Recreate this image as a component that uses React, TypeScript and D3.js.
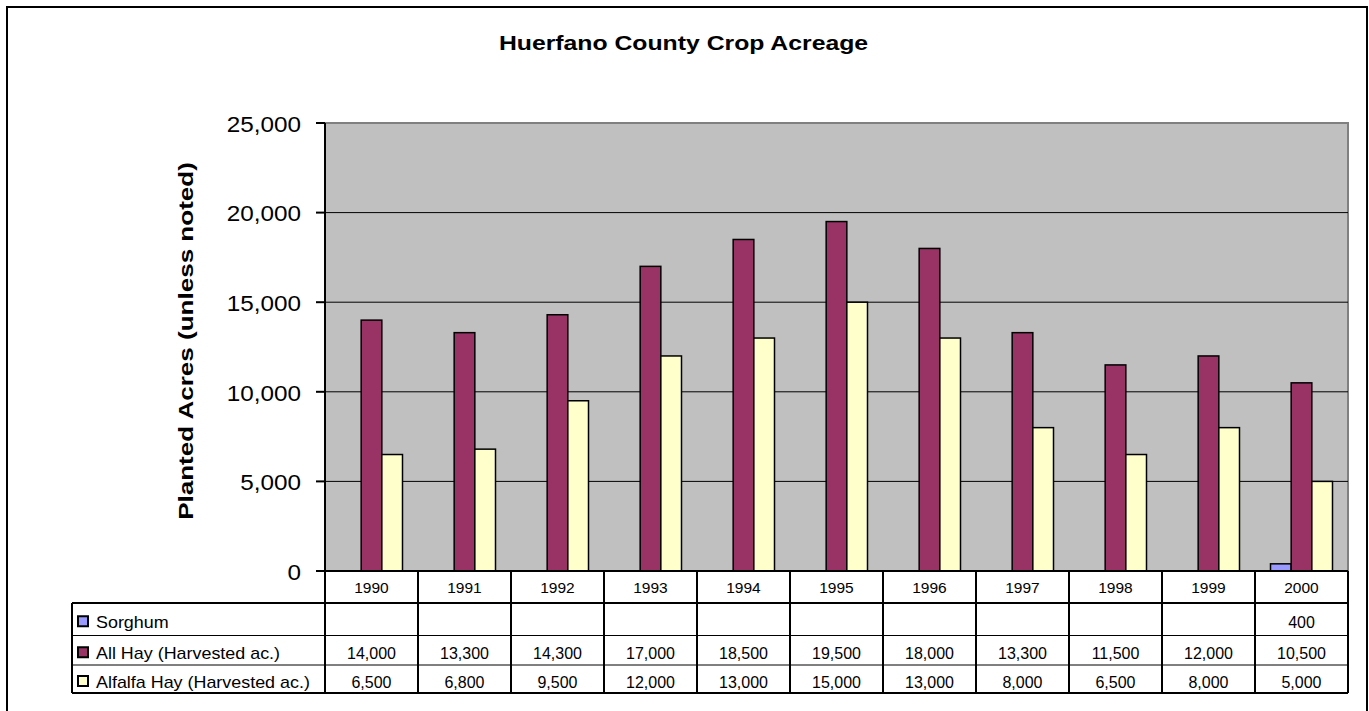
import React from "react";
import * as d3 from "d3";

const years = ["1990","1991","1992","1993","1994","1995","1996","1997","1998","1999","2000"];
const sorghum: (number | null)[] = [null,null,null,null,null,null,null,null,null,null,400];
const allHay: (number | null)[] = [14000,13300,14300,17000,18500,19500,18000,13300,11500,12000,10500];
const alfalfaHay: (number | null)[] = [6500,6800,9500,12000,13000,15000,13000,8000,6500,8000,5000];
const seriesNames = ["Sorghum","All Hay (Harvested ac.)","Alfalfa Hay (Harvested ac.)"];
const seriesColors = ["#9999FF","#993366","#FFFFCC"];
const yTicks = [0,5000,10000,15000,20000,25000];

const series = [sorghum, allHay, alfalfaHay];

export default function App() {
  const W = 1369, H = 711;
  const plotL = 325, plotR = 1348, plotT = 123, plotB = 571;
  const tableL = 72;
  const rowYs = [571, 603, 635.5, 665, 693];
  const font = "Arial, 'Liberation Sans', sans-serif";

  const x = d3.scaleBand<string>().domain(years).range([plotL, plotR]).paddingInner(0).paddingOuter(0);
  const bw = x.bandwidth();
  const groupPad = (bw - 62) / 2;
  const x1 = d3.scaleBand<string>().domain(seriesNames).range([groupPad, bw - groupPad]).padding(0);
  const y = d3.scaleLinear().domain([0, 25000]).range([plotB, plotT]);
  const fmt = d3.format(",");

  return (
    <div style={{ position: "absolute", left: 0, top: 0 }}>
      <svg width={W} height={H} style={{ display: "block" }} fontFamily={font}>
        <rect x={0} y={0} width={W} height={H} fill="#fff" />
        <rect x={7} y={7} width={1360} height={710} fill="none" stroke="#000" strokeWidth={2} />
        <text transform="translate(683.5,50) scale(1.18,1)" textAnchor="middle" fontSize={21} fontWeight="bold">Huerfano County Crop Acreage</text>

        {/* plot area */}
        <rect x={plotL} y={plotT} width={plotR - plotL} height={plotB - plotT} fill="#C0C0C0" stroke="#808080" strokeWidth={2} />
        {yTicks.filter(t => t > 0 && t < 25000).map(t => (
          <line key={t} x1={plotL} x2={plotR} y1={y(t)} y2={y(t)} stroke="#000" strokeWidth={1} />
        ))}
        {/* y axis */}
        <line x1={plotL} x2={plotL} y1={plotT} y2={plotB} stroke="#000" strokeWidth={2} />
        {yTicks.map(t => (
          <g key={t}>
            <line x1={plotL - 9} x2={plotL} y1={y(t)} y2={y(t)} stroke="#000" strokeWidth={2} />
            <text transform={`translate(${plotL - 24},${y(t) + 1}) scale(1.08,1)`} dy="0.35em" textAnchor="end" fontSize={22.5}>{fmt(t)}</text>
          </g>
        ))}
        <text transform={`translate(193,341) rotate(-90) scale(1.24,1)`} textAnchor="middle" fontSize={21} fontWeight="bold">Planted Acres (unless noted)</text>

        {/* bars */}
        {years.map((yr, i) => (
          <g key={yr} transform={`translate(${x(yr)},0)`}>
            {series.map((s, j) => {
              const v = s[i];
              if (v == null) return null;
              return (
                <rect key={j} x={x1(seriesNames[j])} y={y(v)} width={x1.bandwidth()} height={y(0) - y(v)}
                  fill={seriesColors[j]} stroke="#000" strokeWidth={1.5} />
              );
            })}
          </g>
        ))}

        {/* data table */}
        <line x1={plotL} x2={plotR} y1={plotB} y2={plotB} stroke="#000" strokeWidth={2} />
        <line x1={tableL} x2={plotR} y1={rowYs[1]} y2={rowYs[1]} stroke="#000" strokeWidth={2} />
        <line x1={tableL} x2={plotR} y1={rowYs[2]} y2={rowYs[2]} stroke="#000" strokeWidth={1} />
        <line x1={tableL} x2={plotR} y1={rowYs[3]} y2={rowYs[3]} stroke="#000" strokeWidth={1} />
        <line x1={tableL} x2={plotR} y1={rowYs[4]} y2={rowYs[4]} stroke="#000" strokeWidth={2} />
        <line x1={tableL} x2={tableL} y1={rowYs[1]} y2={rowYs[4]} stroke="#000" strokeWidth={2} />
        {years.map(yr => (
          <line key={"v" + yr} x1={x(yr)} x2={x(yr)} y1={plotB} y2={rowYs[4]} stroke="#000" strokeWidth={2} />
        ))}
        <line x1={plotR} x2={plotR} y1={plotB} y2={rowYs[4]} stroke="#000" strokeWidth={2} />
        {years.map(yr => (
          <text key={"t" + yr} x={(x(yr) as number) + bw / 2} y={(rowYs[0] + rowYs[1]) / 2 + 1} dy="0.35em" textAnchor="middle" fontSize={15.5}>{yr}</text>
        ))}
        {seriesNames.map((name, j) => {
          const cy = (rowYs[j + 1] + rowYs[j + 2]) / 2 + 3;
          return (
            <g key={name}>
              <rect x={78} y={cy - 6} width={10} height={10} fill={seriesColors[j]} stroke="#000" strokeWidth={2} />
              <text transform={`translate(96,${cy}) scale(1.12,1)`} dy="0.35em" fontSize={16}>{name}</text>
              {years.map((yr, i) => {
                const v = series[j][i];
                return v == null ? null : (
                  <text key={yr} x={(x(yr) as number) + bw / 2} y={cy} dy="0.35em" textAnchor="middle" fontSize={16}>{fmt(v)}</text>
                );
              })}
            </g>
          );
        })}
      </svg>
    </div>
  );
}
